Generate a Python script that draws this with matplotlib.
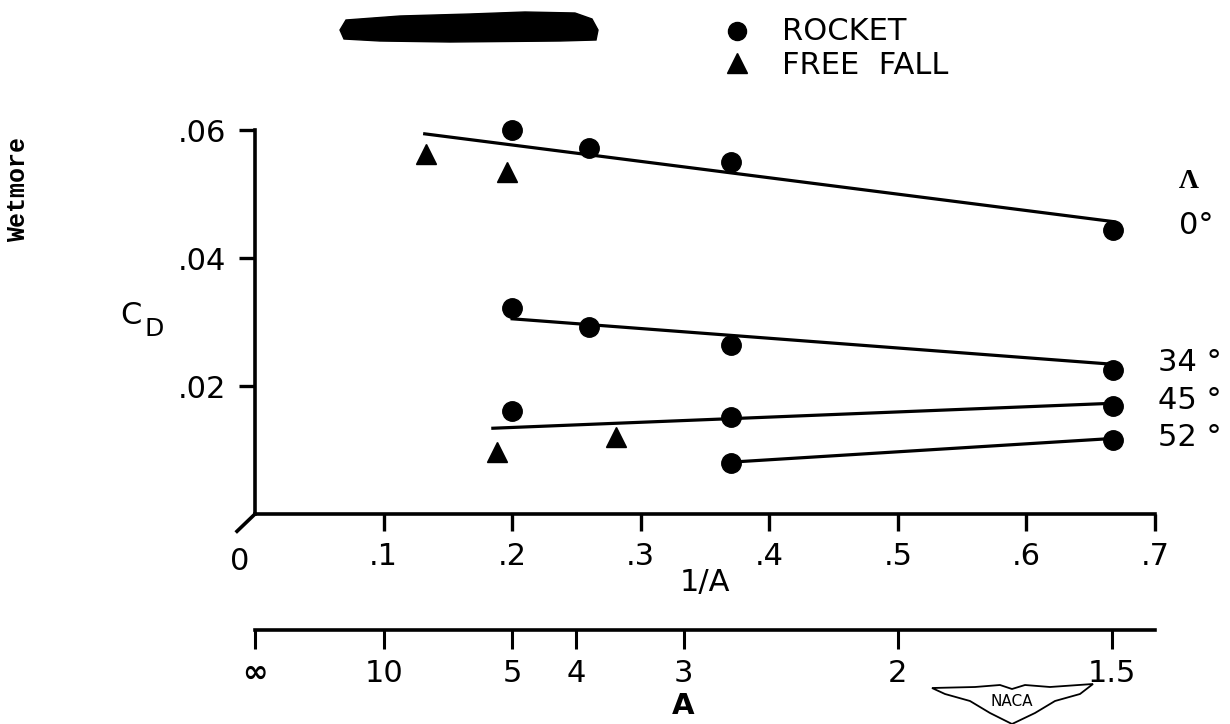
import numpy as np
import matplotlib.pyplot as plt
from matplotlib.patches import Polygon

# ---- data: drag coefficient vs 1/A for each sweep angle ----
sweep_labels = ["0°", "34 °", "45 °", "52 °"]
sweep_label_cd = [0.0451, 0.0236, 0.0178, 0.0120]

rocket_x0 = [0.2, 0.26, 0.37, 0.667]
rocket_cd0 = [0.0600, 0.0572, 0.0550, 0.0444]
free_x0 = [0.133, 0.196]
free_cd0 = [0.0562, 0.0534]
fair_x0 = [0.132, 0.667]
fair_cd0 = [0.0594, 0.0457]

rocket_x34 = [0.2, 0.26, 0.37, 0.667]
rocket_cd34 = [0.0322, 0.0292, 0.0264, 0.0225]
fair_x34 = [0.2, 0.667]
fair_cd34 = [0.0305, 0.0234]

rocket_x45 = [0.2, 0.37, 0.667]
rocket_cd45 = [0.0161, 0.0152, 0.0169]
free_x45 = [0.188, 0.281]
free_cd45 = [0.0097, 0.0120]
fair_x45 = [0.185, 0.667]
fair_cd45 = [0.0134, 0.0173]

rocket_x52 = [0.37, 0.667]
rocket_cd52 = [0.0080, 0.0116]
fair_x52 = [0.37, 0.667]
fair_cd52 = [0.0081, 0.0118]

x_ticks = [0.1, 0.2, 0.3, 0.4, 0.5, 0.6, 0.7]
x_ticklabels = [".1", ".2", ".3", ".4", ".5", ".6", ".7"]
y_ticks = [0.02, 0.04, 0.06]
y_ticklabels = [".02", ".04", ".06"]
aspect_ratios = [np.inf, 10, 5, 4, 3, 2, 1.5]
aspect_labels = ["∞", "10", "5", "4", "3", "2", "1.5"]

plt.rcParams['font.family'] = 'DejaVu Sans'
W, H = 1230, 724
fig = plt.figure(figsize=(W / 100, H / 100), dpi=100)

def px(x, y):
    return x / W, 1 - y / H

ax = fig.add_axes([255 / W, 1 - 514 / H, 900 / W, 384 / H])
ax.set_xlim(0, 0.7)
ax.set_ylim(0, 0.06)
for s in ["top", "right"]:
    ax.spines[s].set_visible(False)
for s in ["left", "bottom"]:
    ax.spines[s].set_linewidth(2.6)
ax.tick_params(axis="both", direction="out", width=2.4, labelsize=22)
ax.tick_params(axis="x", length=12, pad=8)
ax.tick_params(axis="y", length=11.5, pad=9)
ax.set_xticks(x_ticks, x_ticklabels)
ax.set_yticks(y_ticks, y_ticklabels)

# origin stub and zero label
ax.plot([0, -0.014], [0, -0.0027], color="black", lw=2.6, clip_on=False)
ax.text(-0.012, -0.0075, "0", fontsize=22, ha="center", va="center")

lw = 2.3
rocket = dict(marker="o", ms=14, color="black", ls="none", clip_on=False)
free = dict(marker="^", ms=15, color="black", ls="none", clip_on=False)

ax.plot(fair_x0, fair_cd0, color="black", lw=lw)
ax.plot(fair_x34, fair_cd34, color="black", lw=lw)
ax.plot(fair_x45, fair_cd45, color="black", lw=lw)
ax.plot(fair_x52, fair_cd52, color="black", lw=lw)

ax.plot(rocket_x0, rocket_cd0, **rocket)
ax.plot(rocket_x34, rocket_cd34, **rocket)
ax.plot(rocket_x45, rocket_cd45, **rocket)
ax.plot(rocket_x52, rocket_cd52, **rocket)
ax.plot(free_x0, free_cd0, **free)
ax.plot(free_x45, free_cd45, **free)

# sweep angle labels
for lab, cd in zip(sweep_labels, sweep_label_cd):
    xx = 0.719 if lab == "0°" else 0.702
    ax.text(xx, cd, lab, fontsize=22, ha="left", va="center", clip_on=False)
fig.text(*px(1189, 181), "Λ", fontsize=20, ha="center", va="center",
         fontweight="bold", family="Liberation Serif")

# y axis title C_D
fig.text(*px(131, 316), "C", fontsize=22, ha="center", va="center")
fig.text(*px(154, 329), "D", fontsize=18, ha="center", va="center")

fig.text(*px(705, 583), "1/A", fontsize=22, ha="center", va="center")

# aspect ratio scale underneath
sec = ax.secondary_xaxis(-0.302)
sec.spines["bottom"].set_linewidth(2.6)
a_pos = [0 if np.isinf(a) else 1 / a for a in aspect_ratios]
sec.set_xticks(a_pos, aspect_labels)
sec.tick_params(direction="out", length=14, width=2.2, labelsize=22, pad=7)
sec.get_xticklabels()[0].set_fontweight("bold")
fig.text(*px(683, 706), "A", fontsize=21, ha="center", va="center", fontweight="bold")

# legend
fig.text(*px(782, 31), "ROCKET", fontsize=22, ha="left", va="center")
fig.text(*px(782, 65), "FREE  FALL", fontsize=22, ha="left", va="center")
fig.lines.append(plt.Line2D([737 / W], [1 - 31 / H], marker="o", ms=13,
                            color="black", transform=fig.transFigure))
fig.lines.append(plt.Line2D([737 / W], [1 - 63 / H], marker="^", ms=15,
                            color="black", transform=fig.transFigure))

# blacked-out block at top
blob = [(340, 30), (346, 20), (400, 16), (470, 14), (525, 12), (575, 13), (592, 19),
        (598, 30), (596, 40), (560, 41), (450, 42), (380, 41), (344, 39)]
fig.add_artist(Polygon([px(x, y) for x, y in blob], closed=True, color="black",
                       transform=fig.transFigure))

# NACA wing badge
wing = [(932, 688), (975, 687), (1000, 685), (1012, 689), (1025, 685), (1050, 687),
        (1093, 684), (1080, 694), (1055, 701), (1035, 713), (1012, 724), (990, 713),
        (970, 701), (945, 694)]
fig.add_artist(Polygon([px(x, y) for x, y in wing], closed=True, facecolor="white",
                       edgecolor="black", lw=1.3, transform=fig.transFigure))
fig.text(*px(1012, 702), "NACA", fontsize=11, ha="center", va="center")

fig.text(*px(18, 190), "Wetmore", fontsize=18, rotation=90, ha="center", va="center",
         family="Liberation Mono", fontweight="bold")

plt.savefig("out.png", dpi=100)
